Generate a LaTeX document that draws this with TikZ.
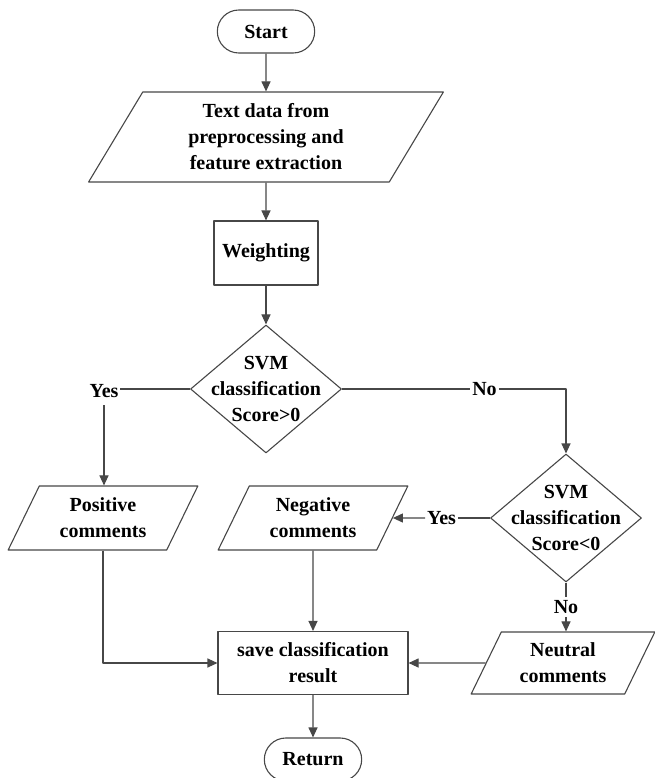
\documentclass[tikz,border=0pt]{standalone}
\usepackage{fontspec}
\setmainfont{Liberation Serif}
\usetikzlibrary{shapes.geometric,shapes.misc,arrows.meta}
\begin{document}
\begin{tikzpicture}[x=1pt,y=-1pt,>={Triangle[length=10pt,width=9pt]}, black!72, line width=1.1pt, line join=round,
	font=\fontsize{20}{26}\selectfont\bfseries,
	every node/.style={align=center, text=black},
	term/.style={draw, rounded rectangle, minimum width=104pt, minimum height=43pt},
	io/.style={draw, trapezium, trapezium left angle=64, trapezium right angle=116, trapezium stretches=true, minimum width=190pt, minimum height=64pt},
	proc/.style={draw, rectangle, minimum width=104pt, minimum height=64pt},
	decision/.style={draw, diamond, minimum width=151pt, minimum height=128pt, inner sep=0pt},
	lab/.style={inner sep=1.5pt}]
		\useasboundingbox (0,0) rectangle (655,778);
		% main column
		\node[term] (start) at (266,31.5) {Start};
		\node[io, minimum width=356pt, minimum height=90pt] (data) at (266,137) {Text data from\\preprocessing and\\feature extraction};
		\node[proc] (weight) at (266,253) {Weighting};
		\node[decision] (d1) at (266,389) {};
		\node (d1txt) at (d1) {SVM\\classification\\Score>0};
		% branches
		\node[io] (pos) at (103,518) {Positive\\comments};
		\node[io] (neg) at (313,518) {Negative\\comments};
		\node[decision] (d2) at (566,518) {};
		\node (d2txt) at (d2) {SVM\\classification\\Score<0};
		\node[io, minimum width=184pt, minimum height=62pt] (neu) at (563,663) {Neutral\\comments};
		\node[proc, minimum width=190pt, minimum height=63pt] (save) at (313,663) {save classification\\result};
		\node[term] (ret) at (313,759.5) {Return};
		% labels
		\node[lab, inner ysep=7pt] (yes1) at (104,391) {Yes};
		\node[lab] (no1) at (484.5,389) {No};
		\node[lab] (yes2) at (441.5,518) {Yes};
		\node[lab, inner ysep=3pt] (no2) at (566,607) {No};
		% connectors
		\draw[->] (start) -- (data);
		\draw[->] (data) -- (weight);
		\draw[->] (weight) -- (d1);
		\draw (d1.west) -- (d1.west -| yes1.east);
		\draw[->] (yes1.south) -- (yes1.south |- pos.north);
		\draw (d1.east) -- (no1.west);
		\draw[->] (no1.east) -| (d2.north);
		\draw (d2.west) -- (yes2.east);
		\draw[->] (yes2.west) -- (neg);
		\draw (d2.south) -- (no2.north);
		\draw[->] (no2.south) -- (no2.south |- neu.north);
		\draw[->] (pos) |- (save);
		\draw[->] (neg) -- (save);
		\draw[->] (neu) -- (save);
		\draw[->] (save) -- (ret);
	\end{tikzpicture}
\end{document}
